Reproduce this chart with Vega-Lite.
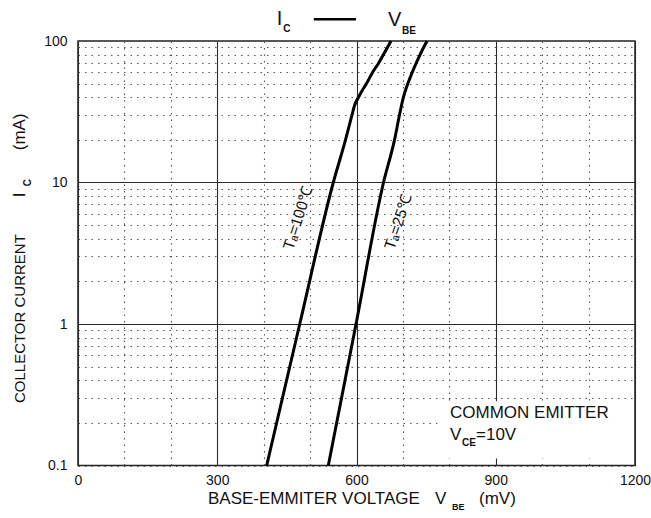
{
  "$schema": "https://vega.github.io/schema/vega-lite/v6.json",
  "width": 557,
  "height": 424.5,
  "autosize": "none",
  "padding": {"left": 78, "top": 41, "right": 16, "bottom": 52.5},
  "background": "white",
  "config": {
    "view": {"stroke": "#222", "strokeWidth": 1.5},
    "font": "Liberation Sans",
    "text": {"font": "Liberation Sans", "color": "#111"}
  },
  "datasets": {
    "curves": [
      {"ta": "100", "vbe": 406.5, "ic": 0.1},
      {"ta": "100", "vbe": 477.7, "ic": 1},
      {"ta": "100", "vbe": 550, "ic": 10},
      {"ta": "100", "vbe": 576.3, "ic": 20},
      {"ta": "100", "vbe": 590.3, "ic": 30},
      {"ta": "100", "vbe": 595.7, "ic": 35},
      {"ta": "100", "vbe": 604.3, "ic": 40},
      {"ta": "100", "vbe": 612.9, "ic": 45},
      {"ta": "100", "vbe": 621.5, "ic": 50},
      {"ta": "100", "vbe": 634.5, "ic": 60},
      {"ta": "100", "vbe": 647.8, "ic": 70},
      {"ta": "100", "vbe": 661.4, "ic": 84},
      {"ta": "100", "vbe": 674.3, "ic": 100},
      {"ta": "25", "vbe": 539.3, "ic": 0.1},
      {"ta": "25", "vbe": 599, "ic": 1},
      {"ta": "25", "vbe": 658.2, "ic": 10},
      {"ta": "25", "vbe": 681.9, "ic": 20},
      {"ta": "25", "vbe": 692.6, "ic": 30},
      {"ta": "25", "vbe": 701, "ic": 40},
      {"ta": "25", "vbe": 710.7, "ic": 50},
      {"ta": "25", "vbe": 720, "ic": 60},
      {"ta": "25", "vbe": 728.8, "ic": 70},
      {"ta": "25", "vbe": 740, "ic": 84},
      {"ta": "25", "vbe": 752.1, "ic": 100}
    ]
  },
  "layer": [
    {
      "data": {"values": [{}]},
      "mark": {"type": "rect", "color": "white"},
      "encoding": {
        "x": {"datum": 775, "type": "quantitative", "scale": {"domain": [0, 1200]},
          "axis": {
            "values": [0, 100, 200, 300, 400, 500, 600, 700, 800, 900, 1000, 1100, 1200],
            "format": "d",
            "title": null,
            "domain": false,
            "ticks": false,
            "labelExpr": "datum.value % 300 == 0 ? datum.label : ''",
            "labelFlush": false,
            "labelOverlap": false,
            "labelFont": "Liberation Sans",
            "labelFontSize": 14,
            "labelColor": "#111",
            "labelPadding": 8,
            "grid": true,
            "gridColor": {"condition": {"test": "datum.value % 300 == 0", "value": "#2a2a2a"}, "value": "#555"},
            "gridDash": {"condition": {"test": "datum.value % 300 == 0", "value": []}, "value": [1.5, 5]},
            "gridWidth": 1.1
          }
        },
        "x2": {"datum": 1197},
        "y": {"datum": 0.112, "type": "quantitative", "scale": {"type": "log", "domain": [0.1, 100]},
          "axis": {
            "values": [0.1, 0.2, 0.3, 0.4, 0.5, 0.6, 0.7, 0.8, 0.9, 1, 2, 3, 4, 5, 6, 7, 8, 9, 10, 20, 30, 40, 50, 60, 70, 80, 90, 100],
            "format": "~g",
            "title": null,
            "domain": false,
            "ticks": false,
            "labelExpr": "(datum.value == 0.1 || datum.value == 1 || datum.value == 10 || datum.value == 100) ? datum.label : ''",
            "labelOverlap": false,
            "labelFlush": false,
            "labelFont": "Liberation Sans",
            "labelFontSize": 14,
            "labelColor": "#111",
            "labelPadding": 11,
            "grid": true,
            "gridColor": {"condition": {"test": "datum.value == 1 || datum.value == 10", "value": "#2a2a2a"}, "value": "#555"},
            "gridDash": {"condition": {"test": "datum.value == 1 || datum.value == 10", "value": []}, "value": [1.5, 5]},
            "gridWidth": 1.1
          }
        },
        "y2": {"datum": 0.285}
      }
    },
    {
      "data": {"name": "curves"},
      "mark": {"type": "line", "color": "black", "strokeWidth": 3, "interpolate": "monotone"},
      "encoding": {
        "x": {"field": "vbe", "type": "quantitative", "scale": {"domain": [0, 1200]}},
        "y": {"field": "ic", "type": "quantitative", "scale": {"type": "log", "domain": [0.1, 100]}},
        "detail": {"field": "ta", "type": "nominal"},
        "order": {"field": "ic", "type": "quantitative"}
      }
    },
    {
      "data": {"values": [{}]},
      "mark": {"type": "text", "text": "I", "fontSize": 20, "align": "center", "baseline": "alphabetic"},
      "encoding": {"x": {"datum": 434, "type": "quantitative"}, "y": {"datum": 129.1, "type": "quantitative"}}
    },
    {
      "data": {"values": [{}]},
      "mark": {"type": "text", "text": "C", "fontSize": 10, "fontWeight": "bold", "align": "left", "baseline": "alphabetic"},
      "encoding": {"x": {"datum": 442, "type": "quantitative"}, "y": {"datum": 115.2, "type": "quantitative"}}
    },
    {
      "data": {"values": [{}]},
      "mark": {"type": "rule", "color": "black", "strokeWidth": 2.5},
      "encoding": {"x": {"datum": 508, "type": "quantitative"}, "x2": {"datum": 599}, "y": {"datum": 142.3, "type": "quantitative"}}
    },
    {
      "data": {"values": [{}]},
      "mark": {"type": "text", "text": "V", "fontSize": 20, "align": "center", "baseline": "alphabetic"},
      "encoding": {"x": {"datum": 682, "type": "quantitative"}, "y": {"datum": 127, "type": "quantitative"}}
    },
    {
      "data": {"values": [{}]},
      "mark": {"type": "text", "text": "BE", "fontSize": 10, "fontWeight": "bold", "align": "left", "baseline": "alphabetic"},
      "encoding": {"x": {"datum": 698, "type": "quantitative"}, "y": {"datum": 111.5, "type": "quantitative"}}
    },
    {
      "data": {"values": [{}]},
      "mark": {"type": "text", "text": "BASE-EMMITER VOLTAGE", "fontSize": 17, "align": "left", "baseline": "alphabetic"},
      "encoding": {"x": {"datum": 280, "type": "quantitative"}, "y": {"datum": 0.0535, "type": "quantitative"}}
    },
    {
      "data": {"values": [{}]},
      "mark": {"type": "text", "text": "V", "fontSize": 17, "align": "left", "baseline": "alphabetic"},
      "encoding": {"x": {"datum": 769, "type": "quantitative"}, "y": {"datum": 0.0535, "type": "quantitative"}}
    },
    {
      "data": {"values": [{}]},
      "mark": {"type": "text", "text": "BE", "fontSize": 9, "fontWeight": "bold", "align": "left", "baseline": "alphabetic"},
      "encoding": {"x": {"datum": 806, "type": "quantitative"}, "y": {"datum": 0.0485, "type": "quantitative"}}
    },
    {
      "data": {"values": [{}]},
      "mark": {"type": "text", "text": "(mV)", "fontSize": 17, "align": "left", "baseline": "alphabetic"},
      "encoding": {"x": {"datum": 864, "type": "quantitative"}, "y": {"datum": 0.0535, "type": "quantitative"}}
    },
    {
      "data": {"values": [{}]},
      "mark": {"type": "text", "text": "COLLECTOR CURRENT", "fontSize": 15, "angle": 270, "align": "left", "baseline": "alphabetic"},
      "encoding": {"x": {"datum": -114.2, "type": "quantitative"}, "y": {"datum": 0.2763, "type": "quantitative"}}
    },
    {
      "data": {"values": [{}]},
      "mark": {"type": "text", "text": "I", "fontSize": 17, "angle": 270, "align": "left", "baseline": "alphabetic"},
      "encoding": {"x": {"datum": -114.2, "type": "quantitative"}, "y": {"datum": 7.87, "type": "quantitative"}}
    },
    {
      "data": {"values": [{}]},
      "mark": {"type": "text", "text": "C", "fontSize": 10, "fontWeight": "bold", "angle": 270, "align": "left", "baseline": "alphabetic"},
      "encoding": {"x": {"datum": -100.2, "type": "quantitative"}, "y": {"datum": 9.42, "type": "quantitative"}}
    },
    {
      "data": {"values": [{}]},
      "mark": {"type": "text", "text": "(mA)", "fontSize": 17, "angle": 270, "align": "left", "baseline": "alphabetic"},
      "encoding": {"x": {"datum": -114.2, "type": "quantitative"}, "y": {"datum": 16.91, "type": "quantitative"}}
    },
    {
      "data": {"values": [{}]},
      "mark": {"type": "text", "text": "Tₐ=100℃", "fontSize": 15.5, "angle": 288, "align": "center", "baseline": "middle"},
      "encoding": {"x": {"datum": 474, "type": "quantitative"}, "y": {"datum": 5.597, "type": "quantitative"}}
    },
    {
      "data": {"values": [{}]},
      "mark": {"type": "text", "text": "Tₐ=25℃", "fontSize": 15.5, "angle": 288.5, "align": "center", "baseline": "middle"},
      "encoding": {"x": {"datum": 690, "type": "quantitative"}, "y": {"datum": 5.243, "type": "quantitative"}}
    },
    {
      "data": {"values": [{}]},
      "mark": {"type": "text", "text": "COMMON EMITTER", "fontSize": 17, "align": "left", "baseline": "alphabetic"},
      "encoding": {"x": {"datum": 801.5, "type": "quantitative"}, "y": {"datum": 0.2165, "type": "quantitative"}}
    },
    {
      "data": {"values": [{}]},
      "mark": {"type": "text", "text": "V", "fontSize": 17, "align": "left", "baseline": "alphabetic"},
      "encoding": {"x": {"datum": 801.5, "type": "quantitative"}, "y": {"datum": 0.1514, "type": "quantitative"}}
    },
    {
      "data": {"values": [{}]},
      "mark": {"type": "text", "text": "CE", "fontSize": 10, "fontWeight": "bold", "align": "left", "baseline": "alphabetic"},
      "encoding": {"x": {"datum": 827.3, "type": "quantitative"}, "y": {"datum": 0.1373, "type": "quantitative"}}
    },
    {
      "data": {"values": [{}]},
      "mark": {"type": "text", "text": "=10V", "fontSize": 17, "align": "left", "baseline": "alphabetic"},
      "encoding": {"x": {"datum": 857.5, "type": "quantitative"}, "y": {"datum": 0.1514, "type": "quantitative"}}
    }
  ]
}
